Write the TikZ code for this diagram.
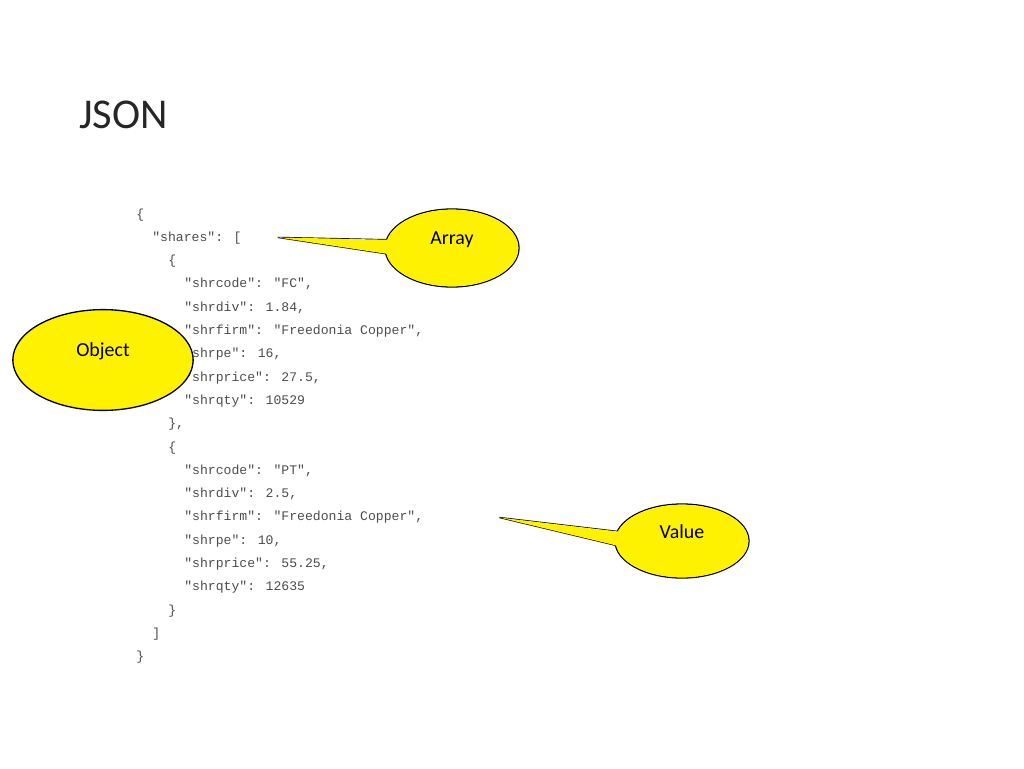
\documentclass[tikz,border=0pt]{standalone}
\usepackage{fontspec}
\setmainfont{Carlito}
\newfontfamily\codefont{Liberation Mono}
\usetikzlibrary{shapes.geometric,calc}
\colorlet{calloutFill}{yellow}
\colorlet{codeColor}{black!70}
\newcommand{\CodeLine}[3]{%
  % #1 name, #2 indent level, #3 line number; the text follows
  \node[code] (#1) at (136+16*#2,218+23.3*#3) }
\newcommand{\Callout}[6]{%
  % #1 name, #2 center, #3 rx, #4 ry, #5 tip, #6 half width of tail base
  \draw[calloutLine] (#5) -- ($(#2)+(-#3+16,-#6)$) -- ($(#2)+(-#3+16,#6)$) -- cycle;
  \draw[calloutLine] (#2) ellipse[x radius=#3, y radius=#4];
  \fill[calloutFill] (#5) -- ($(#2)+(-#3+16,-#6)$) -- ($(#2)+(-#3+16,#6)$) -- cycle;
  \fill[calloutFill] (#2) ellipse[x radius=#3-0.6, y radius=#4-0.6];
}

\begin{document}
\begin{tikzpicture}[
  x=0.0265cm, y=-0.0265cm,
  code/.style={anchor=base west,inner sep=0pt,font=\codefont\fontsize{9.9}{12}\selectfont,text=codeColor},
  calloutLine/.style={line width=1pt,draw=black},
  calloutText/.style={font=\fontsize{15}{18}\selectfont}
]
\useasboundingbox (0,0) rectangle (1024,768);

% Title
\node[anchor=base west,inner sep=0pt,font=\fontsize{32}{38}\selectfont,text=black!85] (title) at (79,128) {JSON};

% Code
\CodeLine{l0}{0}{0}{\{};
\CodeLine{l1}{1}{1}{"shares": [};
\CodeLine{l2}{2}{2}{\{};
\CodeLine{l3}{3}{3}{"shrcode": "FC",};
\CodeLine{l4}{3}{4}{"shrdiv": 1.84,};
\CodeLine{l5}{3}{5}{"shrfirm": "Freedonia Copper",};
\CodeLine{l6}{3}{6}{"shrpe": 16,};
\CodeLine{l7}{3}{7}{"shrprice": 27.5,};
\CodeLine{l8}{3}{8}{"shrqty": 10529};
\CodeLine{l9}{2}{9}{\},};
\CodeLine{l10}{2}{10}{\{};
\CodeLine{l11}{3}{11}{"shrcode": "PT",};
\CodeLine{l12}{3}{12}{"shrdiv": 2.5,};
\CodeLine{l13}{3}{13}{"shrfirm": "Freedonia Copper",};
\CodeLine{l14}{3}{14}{"shrpe": 10,};
\CodeLine{l15}{3}{15}{"shrprice": 55.25,};
\CodeLine{l16}{3}{16}{"shrqty": 12635};
\CodeLine{l17}{2}{17}{\}};
\CodeLine{l18}{1}{18}{]};
\CodeLine{l19}{0}{19}{\}};

% Callouts
\coordinate (arraytip) at ($(l1.east)+(36,-0.5)$);
\coordinate (arrayc) at (452,248);
\Callout{array}{arrayc}{67}{39}{arraytip}{8}
\node[calloutText] (array) at (452,240) {Array};

\coordinate (valuetip) at ($(l13.east)+(76,0)$);
\coordinate (valuec) at (682,541);
\Callout{value}{valuec}{67}{37}{valuetip}{8}
\node[calloutText] (value) at (682,532) {Value};

\node[ellipse,draw,calloutLine,fill=calloutFill,minimum width=136,minimum height=76,inner sep=0pt] (objectshape) at (103,360) {};
\node[calloutText] (object) at (103,351) {Object};
\end{tikzpicture}
\end{document}
